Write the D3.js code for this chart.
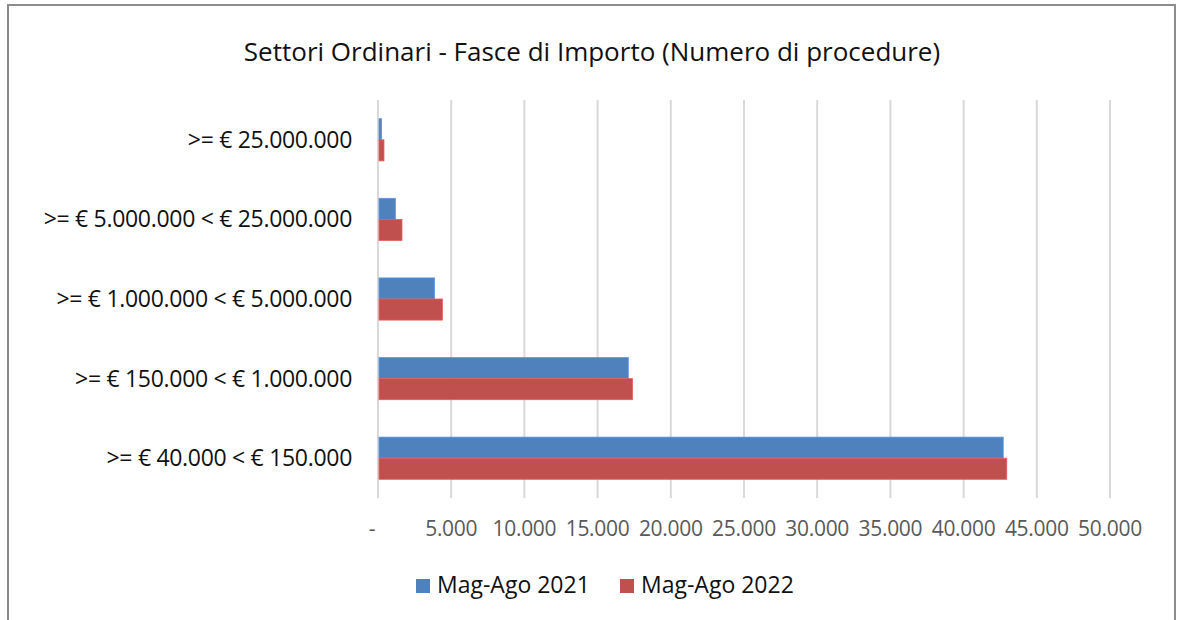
<!DOCTYPE html>
<html>
<head>
<meta charset="utf-8">
<script src="https://cdn.jsdelivr.net/npm/d3@7"></script>
<style>
  body { margin: 0; background: #fff; }
  text { font-family: "Open Sans", "Noto Sans", sans-serif; }
</style>
</head>
<body>
<div id="chart-container"></div>
<script>
// Categories from top to bottom
const categories = [
    ">= € 25.000.000",
    ">= € 5.000.000 < € 25.000.000",
    ">= € 1.000.000 < € 5.000.000",
    ">= € 150.000 < € 1.000.000",
    ">= € 40.000 < € 150.000"
];
const seriesNames = ["Mag-Ago 2021", "Mag-Ago 2022"];
const values2021 = [180, 1120, 3800, 17030, 42640];
const values2022 = [340, 1570, 4330, 17320, 42880];
const tickValues = [0, 5000, 10000, 15000, 20000, 25000, 30000, 35000, 40000, 45000, 50000];
const colors = ["#4f81bd", "#c0504d"];

const W = 1177, H = 620;
const margin = { top: 100, right: 67, bottom: 122, left: 378 };
const width = W - margin.left - margin.right;
const height = H - margin.top - margin.bottom;

const svg = d3.select("#chart-container")
    .append("svg")
    .attr("width", W)
    .attr("height", H);

// outer frame
svg.append("rect")
    .attr("x", 8).attr("y", 5)
    .attr("width", 1167).attr("height", 630)
    .attr("fill", "#fff")
    .attr("stroke", "#8c8c8c")
    .attr("stroke-width", 2);

const g = svg.append("g")
    .attr("transform", "translate(" + margin.left + "," + margin.top + ")");

const xScale = d3.scaleLinear().domain([0, 50000]).range([0, width]);
const yScale = d3.scaleBand().domain(categories).range([0, height]).paddingInner(0.47).paddingOuter(0.235);
const ySub = d3.scaleBand().domain(seriesNames).range([0, yScale.bandwidth()]);

// gridlines
g.selectAll(".grid")
    .data(tickValues)
    .enter()
    .append("line")
    .attr("x1", d => xScale(d)).attr("x2", d => xScale(d))
    .attr("y1", 0).attr("y2", height)
    .attr("stroke", "#d9d9d9")
    .attr("stroke-width", 2);

// bars
const rows = categories.map((c, i) => ({ cat: c, vals: [values2021[i], values2022[i]] }));
const groups = g.selectAll(".row")
    .data(rows)
    .enter()
    .append("g")
    .attr("transform", d => "translate(0," + yScale(d.cat) + ")");

groups.selectAll("rect")
    .data(d => d.vals.map((v, j) => ({ name: seriesNames[j], v: v, j: j })))
    .enter()
    .append("rect")
    .attr("x", xScale(0) + 1)
    .attr("y", d => ySub(d.name))
    .attr("width", d => xScale(d.v) - xScale(0))
    .attr("height", ySub.bandwidth())
    .attr("fill", d => colors[d.j])
    .attr("stroke", d => d3.color(colors[d.j]).brighter(0.5))
    .attr("stroke-width", 0.8);

// category labels
g.selectAll(".cat")
    .data(categories)
    .enter()
    .append("text")
    .attr("x", -26)
    .attr("y", d => yScale(d) + yScale.bandwidth() / 2)
    .attr("dy", "0.35em")
    .attr("text-anchor", "end")
    .style("font-size", "23px")
    .style("letter-spacing", "-0.3px")
    .style("fill", "#111")
    .text(d => d);

// x tick labels
const fmt = d => d === 0 ? "-" : d3.format(",")(d).replace(/,/g, ".");
g.selectAll(".tick-label")
    .data(tickValues)
    .enter()
    .append("text")
    .attr("x", d => d === 0 ? xScale(d) - 6 : xScale(d))
    .attr("y", height + 38)
    .attr("text-anchor", "middle")
    .style("font-size", "21px")
    .style("letter-spacing", "-0.3px")
    .style("fill", "#595959")
    .text(fmt);

// title
svg.append("text")
    .attr("x", 592)
    .attr("y", 61)
    .attr("text-anchor", "middle")
    .style("font-size", "26px")
    .style("fill", "#111")
    .text("Settori Ordinari - Fasce di Importo (Numero di procedure)");

// legend
const legendX = [416, 620];
seriesNames.forEach((name, i) => {
    svg.append("rect")
        .attr("x", legendX[i]).attr("y", 579)
        .attr("width", 14).attr("height", 14)
        .attr("fill", colors[i]);
    svg.append("text")
        .attr("x", legendX[i] + 21)
        .attr("y", 585)
        .attr("dy", "0.35em")
        .style("font-size", "23px")
        .style("fill", "#111")
        .text(name);
});
</script>
</body>
</html>
